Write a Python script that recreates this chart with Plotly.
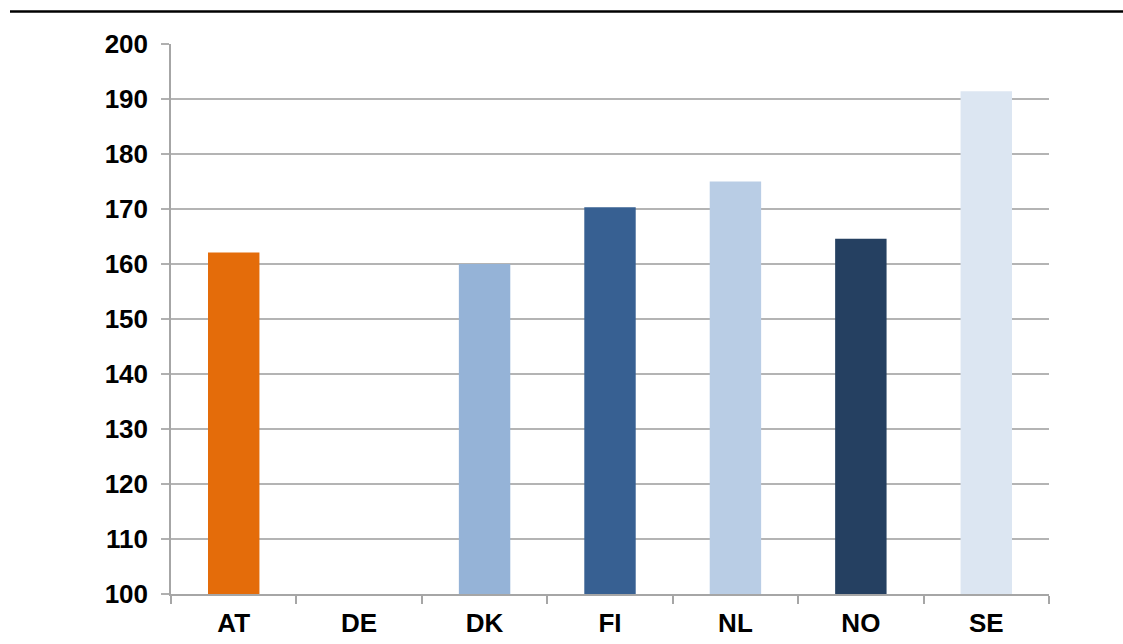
import plotly.graph_objects as go

categories = ["AT", "DE", "DK", "FI", "NL", "NO", "SE"]
values = [162.1, None, 160.0, 170.3, 175.0, 164.6, 191.4]
bar_colors = ["#E46C0A", "#FFFFFF", "#95B3D7", "#376092", "#B9CDE5", "#254061", "#DCE6F2"]
y_ticks = [100, 110, 120, 130, 140, 150, 160, 170, 180, 190, 200]

W, H = 1123, 644
L, R, T, B = 171, 74, 43.5, 50
plot_w = W - L - R
plot_h = H - T - B

fig = go.Figure()
fig.add_trace(go.Bar(
    x=categories,
    y=values,
    marker=dict(color=bar_colors, line=dict(width=0)),
    width=0.41,
    hoverinfo="x+y",
))

tick_font = dict(family="Liberation Sans, Arial, sans-serif", size=26, color="black", weight="bold")

line_y = 1 + (T - 11) / plot_h

fig.update_layout(
    width=W,
    height=H,
    margin=dict(l=L, r=R, t=T, b=B, pad=0, autoexpand=False),
    paper_bgcolor="white",
    plot_bgcolor="white",
    showlegend=False,
    xaxis=dict(
        type="category",
        automargin=False,
        tickson="boundaries",
        ticks="outside",
        ticklen=8,
        tickwidth=1.5,
        tickcolor="#A6A6A6",
        showline=True,
        linecolor="#A6A6A6",
        linewidth=1.5,
        showgrid=False,
        tickfont=tick_font,
        ticklabelstandoff=5,
    ),
    yaxis=dict(
        range=[100, 200],
        automargin=False,
        tickmode="array",
        tickvals=y_ticks,
        ticktext=[str(v) for v in y_ticks],
        ticks="outside",
        ticklen=8,
        tickwidth=1.5,
        tickcolor="#B0B0B0",
        showline=True,
        linecolor="#A6A6A6",
        linewidth=1.5,
        showgrid=True,
        gridcolor="#B4B4B4",
        gridwidth=1.5,
        zeroline=False,
        tickfont=tick_font,
        ticklabelstandoff=8,
    ),
    shapes=[
        dict(type="line", xref="paper", yref="paper",
             x0=(10 - L) / plot_w, x1=(W - L) / plot_w + 0.01, y0=line_y, y1=line_y,
             line=dict(color="black", width=2.5)),
    ],
)

fig.write_html(
    "out.html",
    config={"displayModeBar": False},
    post_script="document.body.style.margin='0';document.body.style.overflow='hidden';",
)
